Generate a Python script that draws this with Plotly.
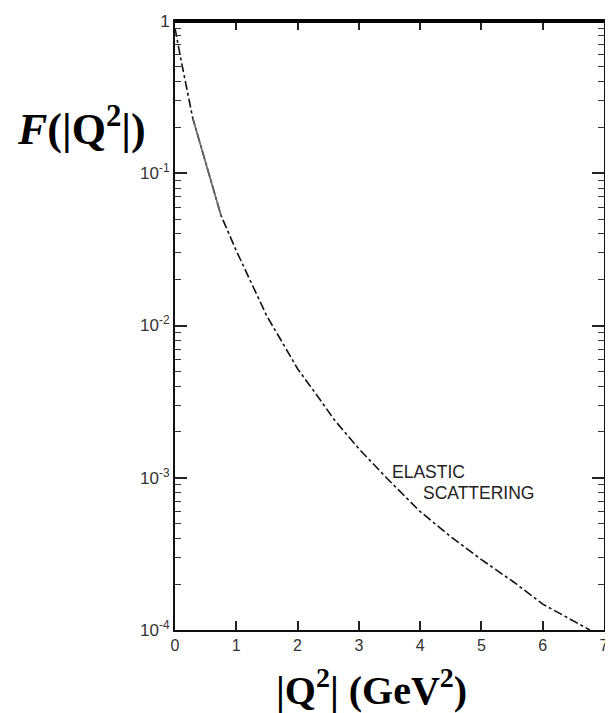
import plotly.graph_objects as go

# Data
q2 = [0, 0.1, 0.29, 0.51, 0.75, 1.0, 1.27, 1.5, 1.78, 2.0, 2.29, 2.6, 3.0, 3.45, 4.0, 4.5, 5.0, 5.53, 6.0, 6.77]
F = [0.9, 0.55, 0.23, 0.115, 0.053, 0.031, 0.018, 0.0115, 0.0074, 0.0052, 0.0036, 0.0024, 0.00155, 0.001,
     0.0006, 0.00041, 0.00029, 0.000206, 0.000148, 0.0001]
# short solid segment near the top
q2_solid = [0.29, 0.51, 0.75]
F_solid = [0.23, 0.115, 0.053]

x_ticks = [0, 1, 2, 3, 4, 5, 6, 7]
y_ticks = [1e-4, 1e-3, 1e-2, 1e-1, 1]
y_ticktext = ["10<sup>-4</sup>", "10<sup>-3</sup>", "10<sup>-2</sup>", "10<sup>-1</sup>", "1"]
y_minor = [m * 10.0 ** e for e in range(-4, 0) for m in range(2, 10)]

fig = go.Figure()
fig.add_trace(go.Scatter(x=q2, y=F, mode="lines",
                         line=dict(color="#111111", width=1.6, dash="dashdot"),
                         showlegend=False))
fig.add_trace(go.Scatter(x=q2_solid, y=F_solid, mode="lines",
                         line=dict(color="#666666", width=1.6),
                         showlegend=False))

fig.update_layout(
    width=605, height=705,
    margin=dict(l=167, r=4, t=8, b=83),
    paper_bgcolor="white", plot_bgcolor="white",
    xaxis=dict(range=[0, 7], tickvals=x_ticks, ticktext=[str(v) for v in x_ticks],
               ticks="inside", ticklen=9, tickwidth=1.5, tickcolor="#222",
               showline=True, linecolor="#111", linewidth=2, mirror="ticks",
               showgrid=False, zeroline=False, ticklabeloverflow="allow",
               tickfont=dict(family="Liberation Sans, Arial, sans-serif", size=16, color="#333")),
    yaxis=dict(type="log", range=[-4, 0.0002], tickvals=y_ticks, ticktext=y_ticktext,
               ticks="inside", ticklen=12, tickwidth=1.5, tickcolor="#222",
               showline=True, linecolor="#111", linewidth=2, mirror="ticks",
               showgrid=False, zeroline=False, ticklabeloverflow="allow",
               minor=dict(tickvals=y_minor, ticks="inside", ticklen=6, tickwidth=1.2,
                          tickcolor="#333", showgrid=False),
               tickfont=dict(family="Liberation Sans, Arial, sans-serif", size=17, color="#333")),
    font=dict(family="Liberation Sans, Arial, sans-serif"),
)

# thick top frame line
fig.add_shape(type="line", xref="paper", yref="paper", x0=0, x1=1, y0=1, y1=1,
              line=dict(color="black", width=4))

fig.add_annotation(text="<b><i>F</i>(|Q<sup>2</sup>|)</b>", xref="paper", yref="paper",
                   x=-0.372, y=0.826, xanchor="left", yanchor="middle", showarrow=False,
                   font=dict(family="Liberation Serif, Times New Roman, serif", size=44, color="black"))
fig.add_annotation(text="<b>|Q<sup>2</sup>| (GeV<sup>2</sup>)</b>", xref="paper", yref="paper",
                   x=0.4585, y=-0.094, xanchor="center", yanchor="middle", showarrow=False,
                   font=dict(family="Liberation Serif, Times New Roman, serif", size=40, color="black"))
fig.add_annotation(text="ELASTIC", x=3.51, y=-2.96, xref="x", yref="y", xanchor="left", yanchor="middle",
                   showarrow=False, font=dict(family="Liberation Sans, Arial, sans-serif", size=17.5, color="#222"))
fig.add_annotation(text="SCATTERING", x=4.01, y=-3.10, xref="x", yref="y", xanchor="left", yanchor="middle",
                   showarrow=False, font=dict(family="Liberation Sans, Arial, sans-serif", size=17.5, color="#222"))

fig.write_html("out.html")
